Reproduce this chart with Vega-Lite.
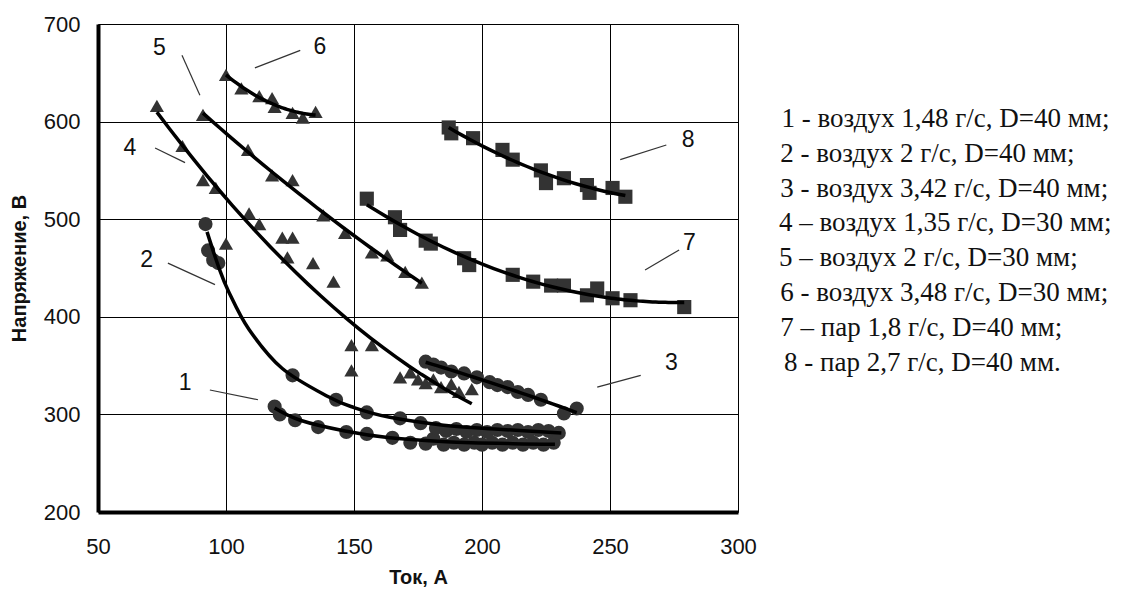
{
  "$schema": "https://vega.github.io/schema/vega-lite/v6.json",
  "width": 640,
  "height": 488,
  "autosize": "none",
  "padding": {"left": 98, "top": 24, "right": 403, "bottom": 80},
  "background": "white",
  "config": {
    "view": {"stroke": null},
    "axis": {
      "domainColor": "black",
      "domainWidth": 4,
      "gridColor": "black",
      "gridWidth": 1,
      "gridOpacity": 1,
      "ticks": false,
      "labelFlush": false,
      "labelOverlap": false,
      "labelFont": "Liberation Sans",
      "labelFontSize": 22,
      "labelColor": "#111",
      "titleFont": "Liberation Sans",
      "titleFontSize": 20,
      "titleFontWeight": "bold",
      "titleColor": "#111"
    }
  },
  "datasets": {
    "pts": [
      {"s": 1, "x": 119, "y": 308}, {"s": 1, "x": 121, "y": 300}, {"s": 1, "x": 127, "y": 294}, {"s": 1, "x": 136, "y": 287},
      {"s": 1, "x": 147, "y": 282}, {"s": 1, "x": 155, "y": 280}, {"s": 1, "x": 165, "y": 276}, {"s": 1, "x": 172, "y": 271},
      {"s": 1, "x": 178, "y": 270}, {"s": 1, "x": 181, "y": 275}, {"s": 1, "x": 185, "y": 269}, {"s": 1, "x": 189, "y": 271},
      {"s": 1, "x": 193, "y": 269}, {"s": 1, "x": 197, "y": 271}, {"s": 1, "x": 200, "y": 269}, {"s": 1, "x": 204, "y": 271},
      {"s": 1, "x": 208, "y": 269}, {"s": 1, "x": 212, "y": 271}, {"s": 1, "x": 216, "y": 269}, {"s": 1, "x": 220, "y": 271},
      {"s": 1, "x": 224, "y": 269}, {"s": 1, "x": 228, "y": 271},
      {"s": 2, "x": 92, "y": 495}, {"s": 2, "x": 93, "y": 468}, {"s": 2, "x": 95, "y": 458}, {"s": 2, "x": 97, "y": 455},
      {"s": 2, "x": 126, "y": 340}, {"s": 2, "x": 143, "y": 315}, {"s": 2, "x": 155, "y": 302}, {"s": 2, "x": 168, "y": 296},
      {"s": 2, "x": 176, "y": 291}, {"s": 2, "x": 182, "y": 286}, {"s": 2, "x": 186, "y": 283}, {"s": 2, "x": 190, "y": 285},
      {"s": 2, "x": 194, "y": 282}, {"s": 2, "x": 198, "y": 284}, {"s": 2, "x": 202, "y": 282}, {"s": 2, "x": 206, "y": 284},
      {"s": 2, "x": 210, "y": 283}, {"s": 2, "x": 214, "y": 284}, {"s": 2, "x": 218, "y": 282}, {"s": 2, "x": 222, "y": 284},
      {"s": 2, "x": 226, "y": 283}, {"s": 2, "x": 230, "y": 281},
      {"s": 3, "x": 178, "y": 354}, {"s": 3, "x": 181, "y": 351}, {"s": 3, "x": 184, "y": 348}, {"s": 3, "x": 188, "y": 344},
      {"s": 3, "x": 193, "y": 342}, {"s": 3, "x": 198, "y": 338}, {"s": 3, "x": 203, "y": 333}, {"s": 3, "x": 206, "y": 330},
      {"s": 3, "x": 210, "y": 328}, {"s": 3, "x": 214, "y": 323}, {"s": 3, "x": 218, "y": 320}, {"s": 3, "x": 223, "y": 315},
      {"s": 3, "x": 232, "y": 301}, {"s": 3, "x": 237, "y": 306},
      {"s": 4, "x": 73, "y": 616}, {"s": 4, "x": 83, "y": 575}, {"s": 4, "x": 91, "y": 540}, {"s": 4, "x": 96, "y": 532},
      {"s": 4, "x": 100, "y": 475}, {"s": 4, "x": 109, "y": 506}, {"s": 4, "x": 113, "y": 495}, {"s": 4, "x": 122, "y": 481},
      {"s": 4, "x": 126, "y": 481}, {"s": 4, "x": 124, "y": 461}, {"s": 4, "x": 134, "y": 455}, {"s": 4, "x": 142, "y": 436},
      {"s": 4, "x": 149, "y": 371}, {"s": 4, "x": 157, "y": 371}, {"s": 4, "x": 149, "y": 345}, {"s": 4, "x": 168, "y": 338},
      {"s": 4, "x": 172, "y": 343}, {"s": 4, "x": 175, "y": 336}, {"s": 4, "x": 178, "y": 332}, {"s": 4, "x": 181, "y": 336},
      {"s": 4, "x": 184, "y": 328}, {"s": 4, "x": 188, "y": 331}, {"s": 4, "x": 191, "y": 323}, {"s": 4, "x": 196, "y": 326},
      {"s": 5, "x": 91, "y": 607}, {"s": 5, "x": 108.6, "y": 571}, {"s": 5, "x": 118, "y": 545}, {"s": 5, "x": 126, "y": 540},
      {"s": 5, "x": 138, "y": 504}, {"s": 5, "x": 146.5, "y": 486}, {"s": 5, "x": 157, "y": 466}, {"s": 5, "x": 163, "y": 463},
      {"s": 5, "x": 170, "y": 446}, {"s": 5, "x": 176.5, "y": 435},
      {"s": 6, "x": 100, "y": 648}, {"s": 6, "x": 106, "y": 634}, {"s": 6, "x": 113, "y": 626}, {"s": 6, "x": 118, "y": 624},
      {"s": 6, "x": 119, "y": 615}, {"s": 6, "x": 126, "y": 609}, {"s": 6, "x": 130, "y": 604}, {"s": 6, "x": 135, "y": 610},
      {"s": 7, "x": 155, "y": 521}, {"s": 7, "x": 166, "y": 502}, {"s": 7, "x": 168, "y": 489}, {"s": 7, "x": 178, "y": 478},
      {"s": 7, "x": 180, "y": 475}, {"s": 7, "x": 193, "y": 460}, {"s": 7, "x": 195, "y": 453}, {"s": 7, "x": 212, "y": 443},
      {"s": 7, "x": 220, "y": 436}, {"s": 7, "x": 227, "y": 432}, {"s": 7, "x": 232, "y": 432}, {"s": 7, "x": 241, "y": 422},
      {"s": 7, "x": 245, "y": 429}, {"s": 7, "x": 251, "y": 419}, {"s": 7, "x": 258, "y": 417}, {"s": 7, "x": 279, "y": 410},
      {"s": 8, "x": 187, "y": 594}, {"s": 8, "x": 188, "y": 588}, {"s": 8, "x": 196.5, "y": 583}, {"s": 8, "x": 208, "y": 571},
      {"s": 8, "x": 212, "y": 561}, {"s": 8, "x": 223, "y": 550}, {"s": 8, "x": 225, "y": 537}, {"s": 8, "x": 232, "y": 542},
      {"s": 8, "x": 241, "y": 535}, {"s": 8, "x": 242, "y": 527}, {"s": 8, "x": 251, "y": 532}, {"s": 8, "x": 256, "y": 523}
    ],
    "fit12": [
      {"s": 1, "x": 119, "y": 306.5}, {"s": 1, "x": 129, "y": 294}, {"s": 1, "x": 146.5, "y": 283}, {"s": 1, "x": 164, "y": 276},
      {"s": 1, "x": 186, "y": 272}, {"s": 1, "x": 212, "y": 270}, {"s": 1, "x": 228.5, "y": 269.5},
      {"s": 2, "x": 92.6, "y": 487}, {"s": 2, "x": 97, "y": 452}, {"s": 2, "x": 101, "y": 426}, {"s": 2, "x": 109, "y": 387},
      {"s": 2, "x": 122, "y": 347}, {"s": 2, "x": 140, "y": 318}, {"s": 2, "x": 150, "y": 307}, {"s": 2, "x": 164, "y": 297},
      {"s": 2, "x": 185, "y": 289}, {"s": 2, "x": 205, "y": 285}, {"s": 2, "x": 231, "y": 281}
    ],
    "labels": [
      {"t": "1", "x": 84, "y": 332}, {"t": "2", "x": 69, "y": 458}, {"t": "3", "x": 274, "y": 353},
      {"t": "4", "x": 62.5, "y": 573}, {"t": "5", "x": 74, "y": 675}, {"t": "6", "x": 136.7, "y": 676},
      {"t": "7", "x": 281, "y": 476}, {"t": "8", "x": 280.5, "y": 581}
    ],
    "leaders": [
      {"x": 93.7, "y": 325, "x2": 112.5, "y2": 315}, {"x": 77.3, "y": 455, "x2": 95.7, "y2": 433},
      {"x": 245, "y": 328, "x2": 262, "y2": 340}, {"x": 72.3, "y": 573, "x2": 84, "y2": 558},
      {"x": 82.8, "y": 668, "x2": 89.8, "y2": 627}, {"x": 111.3, "y": 655, "x2": 129, "y2": 673},
      {"x": 263.7, "y": 448, "x2": 277, "y2": 468.5}, {"x": 254, "y": 561, "x2": 272, "y2": 576}
    ],
    "legend": [
      {"t": "1 - воздух 1,48 г/с, D=40 мм;", "x": 317, "y": 602.7},
      {"t": "2 - воздух 2 г/с, D=40 мм;", "x": 316.5, "y": 567.0},
      {"t": "3 - воздух 3,42 г/с, D=40 мм;", "x": 316.5, "y": 531.4},
      {"t": "4 – воздух 1,35 г/с, D=30 мм;", "x": 316, "y": 495.7},
      {"t": "5 – воздух 2 г/с, D=30 мм;", "x": 316, "y": 460.1},
      {"t": "6 - воздух 3,48 г/с, D=30 мм;", "x": 316.5, "y": 424.4},
      {"t": "7 – пар 1,8 г/с, D=40 мм;", "x": 316.5, "y": 388.8},
      {"t": "8 - пар 2,7 г/с, D=40 мм.", "x": 318, "y": 353.1}
    ]
  },
  "layer": [
    {
      "data": {"name": "pts"},
      "mark": {"type": "point", "filled": true, "opacity": 1, "color": "#333333"},
      "encoding": {
        "x": {"field": "x", "type": "quantitative", "scale": {"domain": [50, 300], "padding": 0, "nice": false, "zero": false},
              "axis": {"values": [50, 100, 150, 200, 250, 300], "title": "Ток, А", "labelPadding": 24, "titlePadding": 10}},
        "y": {"field": "y", "type": "quantitative", "scale": {"domain": [200, 700], "padding": 0, "nice": false, "zero": false},
              "axis": {"values": [200, 300, 400, 500, 600, 700], "title": "Напряжение, В", "labelPadding": 18, "titlePadding": 14}},
        "shape": {"field": "s", "type": "nominal", "legend": null,
                  "scale": {"domain": [1, 2, 3, 4, 5, 6, 7, 8], "range": ["circle", "circle", "circle", "triangle-up", "triangle-up", "triangle-up", "square", "square"]}},
        "size": {"field": "s", "type": "nominal", "legend": null,
                 "scale": {"domain": [1, 2, 3, 4, 5, 6, 7, 8], "range": [200, 200, 200, 250, 250, 250, 210, 210]}}
      }
    },
    {
      "data": {"name": "pts"},
      "transform": [
        {"filter": "datum.s > 2"},
        {"regression": "y", "on": "x", "groupby": ["s"], "method": "poly", "order": 2}
      ],
      "mark": {"type": "line", "color": "black", "strokeWidth": 3.5},
      "encoding": {
        "x": {"field": "x", "type": "quantitative"},
        "y": {"field": "y", "type": "quantitative"},
        "detail": {"field": "s", "type": "nominal"}
      }
    },
    {
      "data": {"name": "fit12"},
      "mark": {"type": "line", "color": "black", "strokeWidth": 3.5, "interpolate": "cardinal"},
      "encoding": {
        "x": {"field": "x", "type": "quantitative"},
        "y": {"field": "y", "type": "quantitative"},
        "detail": {"field": "s", "type": "nominal"}
      }
    },
    {
      "data": {"name": "leaders"},
      "mark": {"type": "rule", "color": "#333", "strokeWidth": 1.2},
      "encoding": {
        "x": {"field": "x", "type": "quantitative"},
        "y": {"field": "y", "type": "quantitative"},
        "x2": {"field": "x2"},
        "y2": {"field": "y2"}
      }
    },
    {
      "data": {"name": "labels"},
      "mark": {"type": "text", "font": "Liberation Sans", "fontSize": 23, "color": "#111", "align": "center", "baseline": "middle"},
      "encoding": {
        "x": {"field": "x", "type": "quantitative"},
        "y": {"field": "y", "type": "quantitative"},
        "text": {"field": "t"}
      }
    },
    {
      "data": {"name": "legend"},
      "mark": {"type": "text", "font": "Liberation Serif", "fontSize": 27, "color": "#111", "align": "left", "baseline": "middle", "clip": false},
      "encoding": {
        "x": {"field": "x", "type": "quantitative"},
        "y": {"field": "y", "type": "quantitative"},
        "text": {"field": "t"}
      }
    }
  ]
}
